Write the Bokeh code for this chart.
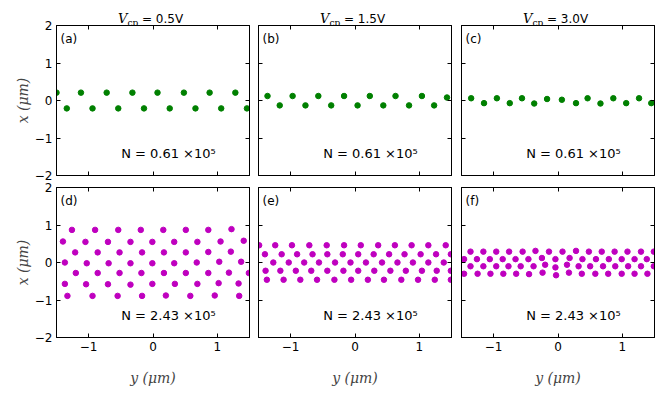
from bokeh.plotting import figure
from bokeh.models import Range1d, FixedTicker, LinearAxis, Label
from bokeh.layouts import column, row
from bokeh.embed import file_html
from bokeh.resources import INLINE

# ---------------- data (y = horizontal position, x = vertical position, in um)
a_y = [-1.50, -1.12, -0.72, -0.32, 0.07, 0.48, 0.88, 1.28,
       -1.34, -0.94, -0.54, -0.14, 0.26, 0.66, 1.06, 1.46]
a_x = [0.21, 0.21, 0.21, 0.21, 0.21, 0.21, 0.21, 0.21,
       -0.21, -0.21, -0.21, -0.21, -0.21, -0.21, -0.21, -0.21]

b_y = [-1.36, -0.97, -0.57, -0.17, 0.23, 0.63, 1.04, 1.43,
       -1.17, -0.77, -0.37, 0.04, 0.44, 0.84, 1.23]
b_x = [0.12, 0.12, 0.12, 0.12, 0.12, 0.12, 0.12, 0.08,
       -0.13, -0.13, -0.13, -0.13, -0.13, -0.13, -0.13]

c_y = [-1.35, -1.15, -0.95, -0.75, -0.56, -0.37, -0.17, 0.06,
       0.28, 0.46, 0.66, 0.86, 1.06, 1.26, 1.45]
c_x = [0.06, -0.07, 0.06, -0.07, 0.06, -0.08, 0.04, 0.02,
       -0.07, 0.06, -0.08, 0.06, -0.07, 0.06, -0.07]

d_y = [-1.26, -0.90, -0.54, -0.19, 0.16, 0.51, 0.86, 1.22,
       -1.40, -1.05, -0.70, -0.35, -0.01, 0.33, 0.69, 1.05, 1.41,
       -1.21, -0.86, -0.52, -0.17, 0.17, 0.51, 0.86, 1.21,
       -1.37, -1.03, -0.69, -0.35, -0.01, 0.33, 0.68, 1.03, 1.37,
       -1.20, -0.86, -0.52, -0.18, 0.17, 0.51, 0.86, 1.18, 1.49,
       -1.37, -1.04, -0.70, -0.35, -0.01, 0.34, 0.69, 1.02, 1.33,
       -1.33, -0.94, -0.55, -0.17, 0.20, 0.58, 0.96, 1.34]
d_x = [0.87, 0.87, 0.87, 0.87, 0.87, 0.87, 0.87, 0.89,
       0.56, 0.55, 0.55, 0.55, 0.55, 0.55, 0.55, 0.56, 0.58,
       0.27, 0.27, 0.27, 0.27, 0.27, 0.27, 0.28, 0.29,
       0.00, -0.02, -0.02, -0.02, -0.02, -0.02, 0.00, 0.02, 0.02,
       -0.28, -0.28, -0.28, -0.28, -0.28, -0.28, -0.28, -0.27, -0.28,
       -0.57, -0.58, -0.58, -0.59, -0.57, -0.57, -0.57, -0.55, -0.56,
       -0.89, -0.89, -0.89, -0.89, -0.88, -0.89, -0.88, -0.89]

e_y = [-1.49, -1.24, -0.98, -0.71, -0.44, -0.17, 0.09, 0.36, 0.62, 0.88, 1.14, 1.41,
       -1.40, -1.14, -0.90, -0.66, -0.43, -0.19, 0.05, 0.29, 0.53, 0.77, 1.02, 1.26, 1.49,
       -1.27, -1.03, -0.79, -0.56, -0.31, -0.07, 0.17, 0.42, 0.66, 0.90, 1.14, 1.38,
       -1.39, -1.16, -0.92, -0.68, -0.43, -0.18, 0.05, 0.30, 0.55, 0.79, 1.04, 1.27, 1.49,
       -1.37, -1.11, -0.85, -0.59, -0.32, -0.06, 0.20, 0.45, 0.72, 0.98, 1.24, 1.49]
e_x = [0.46, 0.46, 0.46, 0.46, 0.46, 0.46, 0.46, 0.46, 0.46, 0.46, 0.46, 0.46,
       0.22, 0.22, 0.22, 0.22, 0.22, 0.22, 0.22, 0.22, 0.22, 0.22, 0.22, 0.22, 0.22,
       0.00, 0.00, 0.00, 0.00, 0.00, 0.00, 0.00, 0.00, 0.00, 0.00, 0.00, 0.00,
       -0.22, -0.22, -0.22, -0.22, -0.22, -0.22, -0.22, -0.22, -0.22, -0.22, -0.22, -0.22, -0.22,
       -0.46, -0.46, -0.46, -0.46, -0.46, -0.46, -0.46, -0.46, -0.46, -0.46, -0.46, -0.46]

f_y = [-1.36, -1.16, -0.96, -0.76, -0.55, -0.35, -0.14, 0.07, 0.28, 0.48, 0.68, 0.88, 1.08, 1.29, 1.49,
       -1.46, -1.26, -1.06, -0.86, -0.66, -0.46, -0.25, -0.04, 0.18, 0.38, 0.59, 0.79, 0.99, 1.19, 1.38,
       -1.36, -1.16, -0.96, -0.77, -0.58, -0.38, -0.20, -0.04, 0.14, 0.32, 0.50, 0.70, 0.89, 1.09, 1.29, 1.49,
       -1.46, -1.25, -1.05, -0.85, -0.65, -0.45, -0.24, -0.03, 0.17, 0.37, 0.58, 0.78, 0.99, 1.19, 1.39]
f_x = [0.29, 0.29, 0.29, 0.29, 0.29, 0.31, 0.29, 0.29, 0.31, 0.29, 0.29, 0.29, 0.29, 0.29, 0.29,
       0.09, 0.09, 0.09, 0.09, 0.09, 0.09, 0.12, 0.09, 0.12, 0.09, 0.09, 0.09, 0.09, 0.09, 0.09,
       -0.10, -0.10, -0.10, -0.10, -0.10, -0.10, -0.06, -0.13, -0.06, -0.10, -0.10, -0.10, -0.10, -0.10, -0.10, -0.10,
       -0.30, -0.30, -0.30, -0.30, -0.30, -0.31, -0.27, -0.34, -0.27, -0.30, -0.30, -0.30, -0.30, -0.30, -0.30]

panel_tags = ["(a)", "(b)", "(c)", "(d)", "(e)", "(f)"]
voltages = ["0.5V", "1.5V", "3.0V"]
n_texts = ["N = 0.61 \u00d710\u2075", "N = 2.43 \u00d710\u2075"]
x_ticks = [-1, 0, 1]
x_tick_labels = ["\u22121", "0", "1"]
y_ticks = [-2, -1, 0, 1, 2]
y_tick_labels = ["\u22122", "\u22121", "0", "1", "2"]

GREEN = "#008000"
MAGENTA = "#bf00bf"
SANS = "DejaVu Sans"
SERIF = "DejaVu Serif"
FRAME_W = 193
FRAME_H = 150
HEADER_H = 32
LR = [(56, 5), (4, 5), (5, 6)]          # left/right borders per column
TB = [(8, 7), (7, 55)]                  # top/bottom borders per row


def style_axis(ax, ticks, labels, show_labels):
    ax.ticker = FixedTicker(ticks=ticks)
    ax.major_tick_in = 4
    ax.major_tick_out = 0
    ax.minor_tick_line_color = None
    ax.major_tick_line_color = "black"
    ax.axis_line_color = "black"
    if show_labels:
        ax.major_label_overrides = {t: l for t, l in zip(ticks, labels)}
        ax.major_label_text_font = SANS
        ax.major_label_text_font_size = "12px"
        ax.major_label_text_color = "black"
        ax.major_label_standoff = 4
    else:
        ax.major_label_overrides = {t: "" for t in ticks}
        ax.major_label_text_font_size = "0px"
        ax.major_label_standoff = 0


def make_header(col):
    h = figure(frame_width=FRAME_W, frame_height=HEADER_H,
               x_range=Range1d(-1.5, 1.5), y_range=Range1d(0, 1),
               output_backend="svg", toolbar_location=None,
               x_axis_location=None, y_axis_location=None,
               min_border_left=LR[col][0], min_border_right=LR[col][1],
               min_border_top=0, min_border_bottom=0)
    h.grid.visible = False
    h.outline_line_color = None
    h.background_fill_color = None
    h.border_fill_color = None
    h.add_layout(Label(x=0, y=0, x_offset=-35, y_offset=14, text="V",
                       text_font=SERIF, text_font_style="italic",
                       text_font_size="13px", text_align="left",
                       text_baseline="alphabetic", text_color="black"))
    h.add_layout(Label(x=0, y=0, x_offset=-25.5, y_offset=10, text="cp",
                       text_font=SERIF, text_font_size="9px", text_align="left",
                       text_baseline="alphabetic", text_color="black"))
    h.add_layout(Label(x=0, y=0, x_offset=-11, y_offset=14, text="= " + voltages[col],
                       text_font=SANS, text_font_size="12px", text_align="left",
                       text_baseline="alphabetic", text_color="black"))
    return h


def make_panel(ys, xs, color, col, rw):
    p = figure(frame_width=FRAME_W, frame_height=FRAME_H,
               x_range=Range1d(-1.5, 1.5), y_range=Range1d(-2, 2),
               output_backend="svg", toolbar_location=None,
               min_border_left=LR[col][0], min_border_right=LR[col][1],
               min_border_top=TB[rw][0], min_border_bottom=TB[rw][1])
    p.grid.visible = False
    p.outline_line_color = "black"
    p.outline_line_width = 1
    p.background_fill_color = "white"
    p.border_fill_color = None

    style_axis(p.xaxis[0], x_ticks, x_tick_labels, rw == 1)
    style_axis(p.yaxis[0], y_ticks, y_tick_labels, col == 0)
    if rw == 1:
        p.xaxis[0].axis_label = "y (\u03bcm)"
        p.xaxis[0].axis_label_text_font = SERIF
        p.xaxis[0].axis_label_text_font_style = "italic"
        p.xaxis[0].axis_label_text_font_size = "14px"
        p.xaxis[0].axis_label_standoff = 16
    if col == 0:
        p.yaxis[0].axis_label = "x (\u03bcm)"
        p.yaxis[0].axis_label_text_font = SERIF
        p.yaxis[0].axis_label_text_font_style = "italic"
        p.yaxis[0].axis_label_text_font_size = "14px"
        p.yaxis[0].axis_label_standoff = 1

    top = LinearAxis()
    style_axis(top, x_ticks, x_tick_labels, False)
    p.add_layout(top, "above")
    right = LinearAxis()
    style_axis(right, y_ticks, y_tick_labels, False)
    p.add_layout(right, "right")

    p.scatter(ys, xs, size=5.5, color=color, line_color=color)

    p.add_layout(Label(x=-1.5, y=2, x_offset=4, y_offset=-6, text=panel_tags[rw * 3 + col],
                       text_font=SANS, text_font_size="12px", text_align="left",
                       text_baseline="top", text_color="black"))
    p.add_layout(Label(x=0.24, y=-1.4, text=n_texts[rw], text_font=SANS,
                       text_font_size="13px", text_align="center",
                       text_baseline="middle", text_color="black"))
    return p


headers = row(make_header(0), make_header(1), make_header(2))
top_row = row(make_panel(a_y, a_x, GREEN, 0, 0),
              make_panel(b_y, b_x, GREEN, 1, 0),
              make_panel(c_y, c_x, GREEN, 2, 0), margin=(-15, 0, 0, 0))
bottom_row = row(make_panel(d_y, d_x, MAGENTA, 0, 1),
                 make_panel(e_y, e_x, MAGENTA, 1, 1),
                 make_panel(f_y, f_x, MAGENTA, 2, 1), margin=(-2, 0, 0, 0))

layout = column(headers, top_row, bottom_row)

with open("out.html", "w") as fh:
    fh.write(file_html(layout, INLINE))
